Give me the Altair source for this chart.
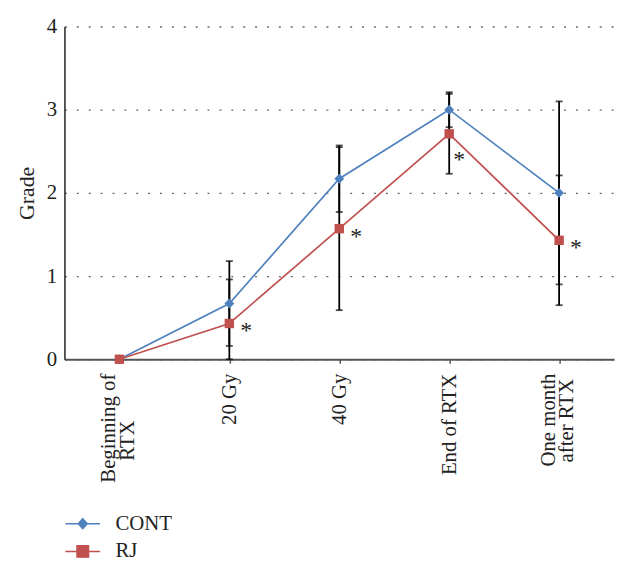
import altair as alt
import pandas as pd

categories = ["Beginning of\nRTX", "20 Gy", "40 Gy", "End of RTX", "One month\nafter RTX"]
series_names = ["CONT", "RJ"]
series_colors = ["#4F81BD", "#C0504D"]

cont_mean = [0.0, 0.67, 2.17, 3.00, 2.00]
cont_low = [None, 0.16, 1.77, 2.79, 0.90]
cont_high = [None, 1.18, 2.57, 3.21, 3.10]

rj_mean = [0.0, 0.43, 1.57, 2.71, 1.43]
rj_low = [None, 0.00, 0.59, 2.23, 0.65]
rj_high = [None, 0.96, 2.55, 3.19, 2.21]
rj_significant = [False, True, True, True, True]

rows = []
for i, c in enumerate(categories):
    rows.append(dict(stage=c, series="CONT", value=cont_mean[i], low=cont_low[i],
                     high=cont_high[i], star=False))
    rows.append(dict(stage=c, series="RJ", value=rj_mean[i], low=rj_low[i],
                     high=rj_high[i], star=rj_significant[i]))
df = pd.DataFrame(rows)

FONT = "Liberation Serif"
MULTI = "indexof(datum.value, '\\n') >= 0"

# second lines of two-line labels are padded so that they sit centred under the first line
NB = "\u00a0"
ZW = "\u200b"
label_expr = (
    "indexof(datum.label, '\\n') < 0 ? datum.label : "
    "[split(datum.label, '\\n')[0], split(datum.label, '\\n')[1] + "
    f"(indexof(datum.label, 'Beginning') >= 0 ? '{NB * 9 + ZW}' : '{NB * 1 + ZW}')]"
)

x_enc = alt.X(
    "stage:N",
    sort=categories,
    scale=alt.Scale(type="point", domain=categories, padding=0.5),
    axis=alt.Axis(
        title=None, labelAngle=270, labelAlign="right", labelBaseline="middle",
        labelPadding=10,
        labelOffset={"condition": {"test": MULTI, "value": -11}, "value": 0},
        labelFontSize=21, labelFont=FONT, labelColor="#222",
        labelExpr=label_expr, labelLineHeight=19,
        ticks=True, tickSize=4, tickColor="#555", tickWidth=1.5,
        domainColor="#555", domainWidth=2.2, grid=False,
    ),
)


def y_enc(field):
    return alt.Y(
        f"{field}:Q",
        scale=alt.Scale(domain=[0, 4], nice=False),
        axis=alt.Axis(
            title="Grade", values=[0, 1, 2, 3, 4], format="d", ticks=False,
            labelPadding=8, labelFontSize=21, labelFont=FONT, labelColor="#222",
            titleFont=FONT, titleFontSize=22, titleFontWeight="normal",
            titleColor="#222", titlePadding=8,
            grid=True, gridDash=[2, 10], gridColor="#666", gridWidth=1.3,
            domainColor="#222", domainWidth=1.5,
        ),
    )


color_enc = alt.Color("series:N", scale=alt.Scale(range=series_colors), legend=None)

base = alt.Chart(df)

bars = base.mark_rule(color="black", strokeWidth=1.8).encode(
    x=x_enc, y=y_enc("low"), y2="high:Q")
cap_low = base.mark_tick(color="black", thickness=1.8, size=7, orient="horizontal").encode(
    x=x_enc, y=y_enc("low"))
cap_high = base.mark_tick(color="black", thickness=1.8, size=7, orient="horizontal").encode(
    x=x_enc, y=y_enc("high"))

lines = base.mark_line(strokeWidth=1.7).encode(x=x_enc, y=y_enc("value"), color=color_enc)

points_cont = base.transform_filter("datum.series == 'CONT'").mark_point(
    filled=True, opacity=1, shape="diamond", size=100
).encode(x=x_enc, y=y_enc("value"), color=color_enc)
points_rj = base.transform_filter("datum.series == 'RJ'").mark_point(
    filled=True, opacity=1, shape="square", size=90
).encode(x=x_enc, y=y_enc("value"), color=color_enc)

star_main = base.transform_filter(
    "datum.star && datum.stage != 'End of RTX'"
).mark_text(text="*", font=FONT, fontSize=24, color="#222", align="center",
            baseline="middle", dx=17, dy=8).encode(x=x_enc, y=y_enc("value"))
star_end = base.transform_filter(
    "datum.star && datum.stage == 'End of RTX'"
).mark_text(text="*", font=FONT, fontSize=24, color="#222", align="center",
            baseline="middle", dx=10, dy=26).encode(x=x_enc, y=y_enc("value"))

legend_def = alt.Legend(
    title=None, orient="none", legendX=7.5, legendY=491, direction="vertical",
    labelFont=FONT, labelFontSize=21, labelColor="#222", labelOffset=22,
    symbolSize=400, symbolStrokeWidth=1.5, rowPadding=7, padding=0,
    symbolFillColor="#4F81BD", symbolStrokeColor="#4F81BD",
)
legend_paths = [
    "M-1.75,0L1.75,0M0,-0.5L0.45,0L0,0.5L-0.45,0Z",
    "M-1.75,0L1.75,0M-0.58,-0.58L0.58,-0.58L0.58,0.58L-0.58,0.58Z",
]
legend_layer = base.mark_point(
    filled=True, size=400, strokeWidth=1.5, opacity=0
).encode(
    x=x_enc, y=y_enc("value"),
    shape=alt.Shape("series:N", scale=alt.Scale(domain=series_names, range=legend_paths),
                    legend=legend_def),
    fill=alt.Fill("series:N", scale=alt.Scale(domain=series_names, range=series_colors),
                  legend=legend_def),
    stroke=alt.Stroke("series:N", scale=alt.Scale(domain=series_names, range=series_colors),
                      legend=legend_def),
)

chart = alt.layer(
    bars, cap_low, cap_high, lines, points_cont, points_rj, star_main, star_end, legend_layer
).properties(
    width=555, height=336,
    autosize=alt.AutoSizeParams(type="none"),
    padding={"left": 57, "top": 16, "right": 8, "bottom": 200},
    background="white",
).configure_view(stroke=None)

chart.save("out.html", embed_options={"renderer": "svg", "actions": False})
